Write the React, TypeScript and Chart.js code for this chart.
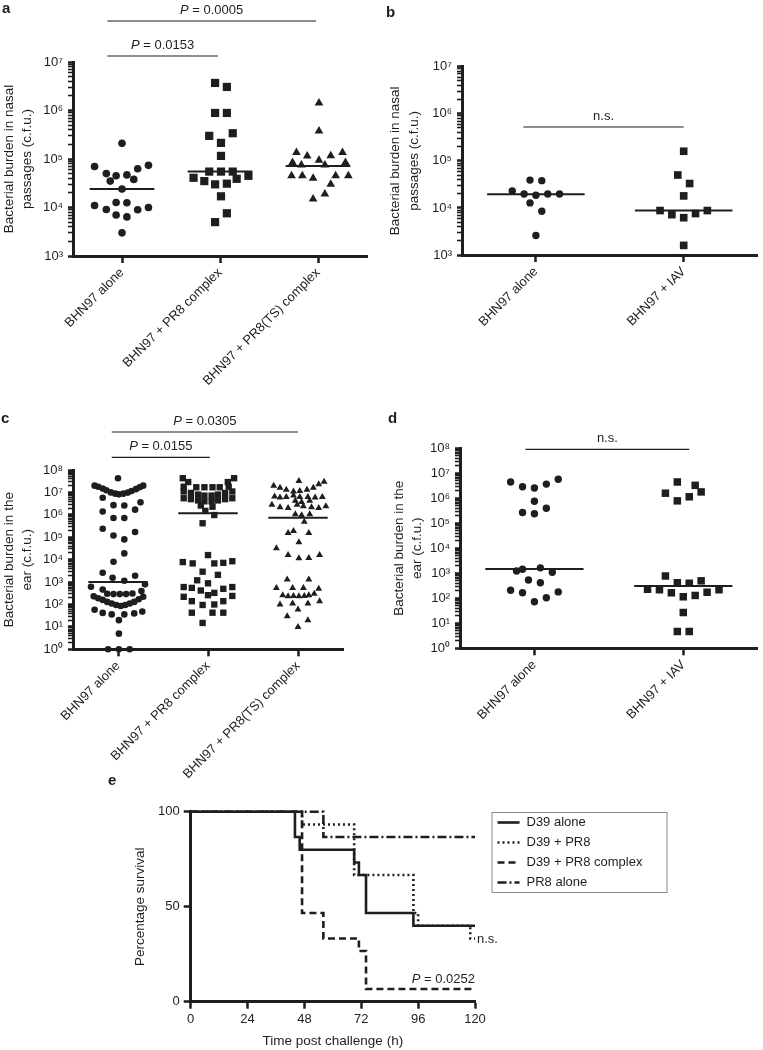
import React, { useEffect, useRef } from 'react';
import { Chart, registerables } from 'chart.js';

Chart.register(...registerables);

const FONT = "'Liberation Sans', Arial, Helvetica, sans-serif";
const INK = '#1e1e1e';

type Pt = [number, number]; // [horizontal jitter (category units), value]

// ---------------- panel a ----------------
const aCategories = ['BHN97 alone', 'BHN97 + PR8 complex', 'BHN97 + PR8(TS) complex'];
const aAlone: Pt[] = [
  [0, 2.1e5], [-0.28, 7.0e4], [0.27, 7.4e4], [0.16, 6.3e4], [-0.16, 5.0e4], [0.05, 4.7e4],
  [-0.06, 4.5e4], [0.12, 3.8e4], [-0.12, 3.5e4], [0, 2.4e4], [-0.06, 1.27e4], [0.05, 1.25e4],
  [-0.28, 1.1e4], [0.27, 1.0e4], [-0.16, 9.1e3], [0.16, 9.0e3], [-0.06, 7.0e3], [0.05, 6.4e3], [0, 3.0e3],
];
const aPR8: Pt[] = [
  [-0.05, 3.7e6], [0.07, 3.06e6], [-0.05, 8.9e5], [0.07, 8.9e5], [-0.11, 3.0e5], [0.13, 3.4e5],
  [0.01, 2.15e5], [0.01, 1.16e5], [-0.11, 5.5e4], [0.01, 5.5e4], [0.13, 5.5e4], [-0.27, 4.1e4],
  [0.29, 4.5e4], [-0.16, 3.5e4], [0.17, 3.9e4], [-0.05, 3.0e4], [0.07, 3.1e4], [0.01, 1.7e4],
  [0.07, 7.6e3], [-0.05, 5.0e3],
];
const aPR8TS: Pt[] = [
  [0.01, 1.43e6], [0.01, 3.8e5], [-0.22, 1.36e5], [0.25, 1.36e5], [-0.11, 1.15e5], [0.13, 1.17e5],
  [0.01, 9.4e4], [-0.26, 8.5e4], [0.28, 8.5e4], [-0.17, 7.5e4], [0.07, 7.5e4], [-0.27, 4.5e4],
  [-0.16, 4.5e4], [-0.05, 4.0e4], [0.18, 4.5e4], [0.31, 4.5e4], [0.13, 3.0e4], [0.07, 1.9e4],
  [-0.05, 1.5e4],
];
const aMedians = [2.4e4, 5.5e4, 7.2e4];
const aPValues = ['P = 0.0005', 'P = 0.0153'];

// ---------------- panel b ----------------
const bCategories = ['BHN97 alone', 'BHN97 + IAV'];
const bAlone: Pt[] = [
  [-0.16, 2.3e4], [-0.04, 3.9e4], [0.04, 3.8e4], [-0.08, 1.98e4], [0, 1.86e4], [0.08, 1.98e4],
  [0.16, 1.98e4], [-0.04, 1.28e4], [0.04, 8.5e3], [0, 2.6e3],
];
const bIAV: Pt[] = [
  [0, 1.6e5], [-0.04, 5.0e4], [0.04, 3.3e4], [0, 1.8e4], [-0.16, 8.8e3], [0.16, 8.8e3],
  [-0.08, 7.2e3], [0.08, 7.6e3], [0, 6.2e3], [0, 1.6e3],
];
const bMedians = [1.95e4, 8.8e3];
const bLabel = 'n.s.';

// ---------------- panel c ----------------
const cCategories = ['BHN97 alone', 'BHN97 + PR8 complex', 'BHN97 + PR8(TS) complex'];
const cAlone: Pt[] = [
  [0, 4.3e7],
  [-0.26, 2.0e7], [-0.22, 1.8e7], [-0.17, 1.5e7], [-0.13, 1.25e7], [-0.08, 1.0e7], [-0.03, 8.8e6],
  [0.01, 8.2e6], [0.06, 8.8e6], [0.11, 9.8e6], [0.15, 1.15e7], [0.2, 1.4e7], [0.24, 1.7e7], [0.28, 2.0e7],
  [-0.17, 5.8e6], [0.25, 3.6e6], [-0.05, 2.7e6], [0.07, 2.6e6], [0.19, 1.7e6], [-0.17, 1.4e6],
  [-0.05, 7.2e5], [0.07, 7.2e5], [-0.17, 2.4e5], [0.19, 1.7e5], [-0.05, 1.2e5], [0.07, 8.0e4],
  [0.07, 1.9e4], [-0.05, 8.0e3],
  [-0.17, 2.6e3], [-0.06, 1.56e3], [0.07, 1.15e3], [0.19, 1.9e3], [-0.3, 6.2e2], [0.3, 7.9e2],
  [-0.17, 4.6e2], [-0.12, 3.0e2], [-0.05, 2.9e2], [0.02, 2.9e2], [0.09, 2.9e2], [0.16, 3.1e2], [0.26, 4.0e2],
  [-0.27, 2.3e2], [-0.22, 1.9e2], [-0.17, 1.6e2], [-0.12, 1.3e2], [-0.07, 1.1e2], [-0.02, 95],
  [0.03, 85], [0.08, 95], [0.13, 1.1e2], [0.18, 1.3e2], [0.23, 1.7e2], [0.28, 2.2e2],
  [-0.26, 58], [-0.17, 42], [-0.07, 36], [0.07, 36], [0.18, 40], [0.27, 48],
  [0.01, 20], [0.01, 5], [-0.11, 1], [0.01, 1], [0.13, 1],
];
const cPR8: Pt[] = [
  [-0.28, 4.3e7], [0.29, 4.3e7], [-0.22, 2.9e7], [0.22, 2.9e7],
  [-0.27, 1.8e7], [-0.13, 1.7e7], [-0.04, 1.7e7], [0.05, 1.7e7], [0.13, 1.7e7], [0.23, 1.8e7],
  [-0.27, 1.1e7], [-0.19, 9.5e6], [-0.11, 8.0e6], [-0.04, 7.2e6], [0.04, 7.2e6], [0.11, 8.0e6],
  [0.19, 9.5e6], [0.27, 1.1e7],
  [-0.27, 5.5e6], [-0.19, 5.0e6], [-0.11, 4.4e6], [-0.04, 4.0e6], [0.04, 4.0e6], [0.11, 4.4e6],
  [0.19, 5.0e6], [0.27, 5.5e6],
  [-0.08, 2.6e6], [0.05, 2.3e6], [-0.03, 1.5e6], [0.07, 9.8e5], [-0.06, 4.2e5],
  [0, 1.6e4], [-0.28, 7.8e3], [-0.17, 6.8e3], [0.07, 6.8e3], [0.17, 7.2e3], [0.27, 8.5e3],
  [-0.06, 2.9e3], [0.11, 2.1e3], [-0.12, 1.2e3], [0, 8.8e2],
  [-0.27, 6.0e2], [-0.18, 5.5e2], [-0.08, 4.2e2], [0.17, 5.0e2], [0.27, 6.0e2],
  [0.07, 3.3e2], [0, 2.6e2], [-0.27, 2.2e2], [0.27, 2.4e2], [-0.18, 1.4e2], [0.17, 1.4e2],
  [-0.06, 95], [0.07, 1.0e2], [-0.18, 43], [0.05, 43], [0.17, 43], [-0.06, 15],
];
const cPR8TS: Pt[] = [
  [0.01, 3.2e7], [0.23, 2.3e7], [0.29, 3.0e7],
  [-0.27, 2.0e7], [-0.2, 1.6e7], [-0.13, 1.3e7], [-0.05, 1.1e7], [0.02, 1.15e7], [0.1, 1.3e7], [0.17, 1.6e7],
  [-0.26, 6.5e6], [-0.2, 6.0e6], [-0.13, 6.3e6], [-0.05, 7.2e6], [0.02, 6.3e6], [0.11, 6.3e6],
  [0.19, 6.0e6], [0.27, 6.3e6],
  [-0.03, 4.2e6], [0.04, 3.7e6], [0.13, 4.2e6],
  [-0.29, 2.8e6], [-0.2, 2.2e6], [-0.11, 2.0e6], [-0.01, 2.8e6], [0.06, 2.4e6], [0.15, 2.2e6],
  [0.23, 2.0e6], [0.31, 2.4e6],
  [-0.03, 1.05e6], [0.04, 9.5e5], [0.13, 1.05e6], [0.07, 4.9e5],
  [-0.11, 1.55e5], [-0.05, 1.9e5], [0.12, 1.55e5], [0.01, 5.9e4], [-0.24, 3.2e4],
  [-0.11, 1.6e4], [0.01, 1.15e4], [0.12, 1.2e4], [0.24, 1.6e4],
  [-0.12, 1.3e3], [0.12, 1.3e3], [-0.24, 5.4e2], [-0.06, 5.4e2], [0.06, 5.4e2], [0.23, 5.0e2],
  [-0.17, 2.6e2], [-0.11, 2.3e2], [-0.05, 2.4e2], [0.01, 2.3e2], [0.07, 2.4e2], [0.12, 2.6e2], [0.18, 3.0e2],
  [-0.2, 1.0e2], [-0.06, 1.1e2], [0.11, 1.1e2], [0.24, 1.4e2],
  [0, 60], [-0.12, 30], [0.11, 20], [0, 10],
];
const cMedians = [1.0e3, 1.17e6, 7.4e5];
const cPValues = ['P = 0.0305', 'P = 0.0155'];

// ---------------- panel d ----------------
const dCategories = ['BHN97 alone', 'BHN97 + IAV'];
const dAlone: Pt[] = [
  [-0.16, 4.5e6], [-0.08, 2.9e6], [0, 2.6e6], [0.08, 3.7e6], [0.16, 5.8e6], [0, 7.6e5],
  [-0.08, 2.7e5], [0, 2.4e5], [0.08, 4.0e5],
  [-0.12, 1.23e3], [-0.08, 1.45e3], [0.04, 1.65e3], [0.12, 1.1e3], [-0.04, 5.4e2], [0.04, 4.2e2],
  [-0.16, 2.1e2], [-0.08, 1.66e2], [0.16, 1.8e2], [0.08, 1.05e2], [0, 73],
];
const dIAV: Pt[] = [
  [-0.04, 4.5e6], [0.08, 3.3e6], [0.12, 1.8e6], [-0.12, 1.6e6], [0.04, 1.15e6], [-0.04, 7.9e5],
  [-0.12, 7.8e2], [-0.04, 4.2e2], [0.04, 4.0e2], [0.12, 5.0e2], [-0.24, 2.3e2], [-0.16, 2.2e2],
  [-0.08, 1.66e2], [0, 1.15e2], [0.08, 1.3e2], [0.16, 1.75e2], [0.24, 2.2e2], [0, 27],
  [-0.04, 4.7], [0.04, 4.7],
];
const dMedians = [1.5e3, 3.1e2];
const dLabel = 'n.s.';

// ---------------- panel e (Kaplan–Meier) ----------------
const eD39Alone: Pt[] = [[0, 100], [44, 86.7], [46, 80], [69, 73.3], [71, 66.7], [74, 46.7], [94, 40], [120, 40]];
const eD39PR8: Pt[] = [[0, 100], [47, 93.3], [69, 66.7], [94, 46.7], [96, 40], [118, 33.3], [120, 33.3]];
const eD39PR8Complex: Pt[] = [[0, 100], [47, 46.7], [56, 33.3], [71, 26.7], [74, 6.7], [120, 6.7]];
const ePR8Alone: Pt[] = [[0, 100], [56, 86.7], [120, 86.7]];
const eLabels = ['D39 alone', 'D39 + PR8', 'D39 + PR8 complex', 'PR8 alone'];
const eXTicks = [0, 24, 48, 72, 96, 120];
const eYTicks = [0, 50, 100];
const eNs = 'n.s.';
const eP = 'P = 0.0252';

// ---------------- helpers ----------------
const SUP = '⁰¹²³⁴⁵⁶⁷⁸⁹';
const isPow10 = (v: number) => Math.abs(Math.log10(v) - Math.round(Math.log10(v))) < 1e-9;
const pow10Label = (v: number) =>
  isPow10(v) ? '10' + String(Math.round(Math.log10(v))).split('').map((d) => SUP[+d]).join('') : '';
function logTicks(min: number, max: number) {
  const out: number[] = [];
  for (let e = Math.round(Math.log10(min)); e < Math.round(Math.log10(max)); e++) {
    for (let s = 1; s < 10; s++) out.push(s * Math.pow(10, e));
  }
  out.push(max);
  return out;
}

function drawRich(ctx: CanvasRenderingContext2D, label: string, x: number, y: number, align: string) {
  const size = 13;
  const parts: [string, string][] = label.startsWith('P = ')
    ? [['P', 'italic'], [label.slice(1), 'normal']]
    : [[label, 'normal']];
  const widths = parts.map(([t, s]) => {
    ctx.font = `${s} ${size}px ${FONT}`;
    return ctx.measureText(t).width;
  });
  const total = widths.reduce((a, b) => a + b, 0);
  let cx = align === 'center' ? x - total / 2 : align === 'right' ? x - total : x;
  ctx.textAlign = 'left';
  ctx.textBaseline = 'middle';
  ctx.fillStyle = INK;
  parts.forEach(([t, s], i) => {
    ctx.font = `${s} ${size}px ${FONT}`;
    ctx.fillText(t, cx, y);
    cx += widths[i];
  });
}

const annotPlugin = {
  id: 'annot',
  afterDraw(chart: any, _args: any, opts: any) {
    const { ctx } = chart;
    const xs = chart.scales.x;
    const ys = chart.scales.y;
    ctx.save();
    (opts.brackets || []).forEach((b: any) => {
      const x1 = xs.getPixelForValue(b.from);
      const x2 = xs.getPixelForValue(b.to);
      ctx.strokeStyle = INK;
      ctx.lineWidth = 1.2;
      ctx.beginPath();
      ctx.moveTo(x1, b.y);
      ctx.lineTo(x2, b.y);
      ctx.stroke();
      drawRich(ctx, b.label, (x1 + x2) / 2, b.y - 11, 'center');
    });
    (opts.notes || []).forEach((n: any) => {
      drawRich(ctx, n.label, xs.getPixelForValue(n.x) + (n.dx || 0), ys.getPixelForValue(n.y) + (n.dy || 0), n.align);
    });
    ctx.restore();
  },
};

const kmLegendPlugin = {
  id: 'kmLegend',
  afterDraw(chart: any, _args: any, opts: any) {
    const { ctx } = chart;
    const box = opts.box;
    if (!box) return;
    ctx.save();
    ctx.strokeStyle = '#8a8a8a';
    ctx.lineWidth = 1;
    ctx.strokeRect(box.x + 0.5, box.y + 0.5, box.w, box.h);
    chart.data.datasets.forEach((ds: any, i: number) => {
      const y = box.y + 10.5 + i * box.gap;
      ctx.setLineDash(ds.borderDash || []);
      ctx.lineWidth = ds.borderWidth;
      ctx.strokeStyle = INK;
      ctx.beginPath();
      ctx.moveTo(box.x + 6, y);
      ctx.lineTo(box.x + 28, y);
      ctx.stroke();
      ctx.setLineDash([]);
      ctx.fillStyle = INK;
      ctx.font = `13px ${FONT}`;
      ctx.textAlign = 'left';
      ctx.textBaseline = 'middle';
      ctx.fillText(ds.label, box.x + 35, y);
    });
    ctx.restore();
  },
};

interface Group { points: Pt[]; style: string; radius: number }

function dotConfig(p: any) {
  const datasets: any[] = [];
  p.groups.forEach((g: Group, i: number) => {
    datasets.push({
      type: 'scatter',
      data: g.points.map(([o, v]) => ({ x: i + 1 + o, y: v })),
      pointStyle: g.style,
      pointRadius: g.radius,
      backgroundColor: INK,
      borderColor: INK,
      borderWidth: 0,
      clip: false,
    });
  });
  p.medians.forEach((m: number, i: number) => {
    datasets.push({
      type: 'line',
      data: [{ x: i + 1 - 0.33, y: m }, { x: i + 1 + 0.33, y: m }],
      borderColor: INK,
      borderWidth: 2,
      pointRadius: 0,
      fill: false,
      clip: false,
    });
  });
  const tickFont = { family: FONT, size: 13 };
  return {
    type: 'scatter',
    data: { datasets },
    options: {
      responsive: false,
      animation: false,
      devicePixelRatio: 1,
      layout: { padding: { left: 0, top: p.area.top, right: p.w - p.area.right, bottom: 0 } },
      plugins: {
        legend: { display: false },
        tooltip: { enabled: false },
        annot: { brackets: p.brackets },
      },
      scales: {
        x: {
          type: 'linear',
          min: 0.5,
          max: p.categories.length + 0.5,
          afterBuildTicks: (s: any) => {
            s.ticks = p.categories.map((_: string, i: number) => ({ value: i + 1 }));
          },
          afterFit: (s: any) => {
            s.height = p.h - p.area.bottom;
          },
          ticks: {
            callback: (v: any) => p.categories[Math.round(Number(v)) - 1] ?? '',
            minRotation: 45,
            maxRotation: 45,
            autoSkip: false,
            font: tickFont,
            color: INK,
            padding: 2,
          },
          grid: { drawOnChartArea: false, drawTicks: true, tickLength: 7, tickWidth: 2.5, tickColor: INK },
          border: { display: true, color: INK, width: 3 },
        },
        y: {
          type: 'logarithmic',
          min: p.yMin,
          max: p.yMax,
          afterBuildTicks: (s: any) => {
            s.ticks = logTicks(p.yMin, p.yMax).map((v) => ({ value: v, major: isPow10(v) }));
          },
          afterFit: (s: any) => {
            s.width = p.area.left;
          },
          ticks: {
            callback: (v: any) => pow10Label(Number(v)),
            autoSkip: false,
            font: tickFont,
            color: INK,
            padding: 5,
          },
          grid: {
            drawOnChartArea: false,
            drawTicks: true,
            tickLength: 5,
            tickWidth: (c: any) => (c.tick && isPow10(c.tick.value) ? 2.5 : 1.6),
            tickColor: INK,
          },
          border: { display: true, color: INK, width: 3 },
          title: {
            display: true,
            text: p.yTitle,
            color: INK,
            font: { family: FONT, size: 13.5, lineHeight: 1.35 },
            padding: { top: p.titlePad, bottom: 0 },
          },
        },
      },
    },
    plugins: [annotPlugin],
  };
}

function kmConfig() {
  const series = [
    { label: eLabels[0], data: eD39Alone, dash: [] },
    { label: eLabels[1], data: eD39PR8, dash: [2, 3] },
    { label: eLabels[2], data: eD39PR8Complex, dash: [7, 4] },
    { label: eLabels[3], data: ePR8Alone, dash: [9, 3, 2, 3] },
  ];
  const W = 763;
  const H = 280;
  const area = { left: 190.7, top: 41.7, right: 475, bottom: 231.7 };
  const tickFont = { family: FONT, size: 13 };
  return {
    type: 'line',
    data: {
      datasets: series.map((s) => ({
        label: s.label,
        data: s.data.map(([x, y]) => ({ x, y })),
        stepped: 'before',
        borderColor: INK,
        borderWidth: 2.6,
        borderDash: s.dash,
        pointRadius: 0,
        fill: false,
        clip: false,
      })),
    },
    options: {
      responsive: false,
      animation: false,
      devicePixelRatio: 1,
      layout: { padding: { left: 125, top: area.top, right: W - area.right, bottom: 0 } },
      plugins: {
        legend: { display: false },
        tooltip: { enabled: false },
        kmLegend: { box: { x: 491.5, y: 812 - 770, w: 175, h: 80, gap: 20 } },
        annot: {
          notes: [
            { label: eNs, x: 120, y: 33.3, dx: 2, dy: 1, align: 'left' },
            { label: eP, x: 120, y: 33.3, dx: 0, dy: 41, align: 'right' },
          ],
        },
      },
      scales: {
        x: {
          type: 'linear',
          min: 0,
          max: 120,
          afterBuildTicks: (s: any) => {
            s.ticks = eXTicks.map((v) => ({ value: v }));
          },
          afterFit: (s: any) => {
            s.height = H - area.bottom;
          },
          ticks: { font: tickFont, color: INK, padding: 3, maxRotation: 0, autoSkip: false },
          grid: { drawOnChartArea: false, drawTicks: true, tickLength: 7, tickWidth: 2.5, tickColor: INK },
          border: { display: true, color: INK, width: 3 },
          title: {
            display: true,
            text: 'Time post challenge (h)',
            color: INK,
            font: { family: FONT, size: 13.5, lineHeight: 1.3 },
            padding: { top: 0, bottom: 0 },
          },
        },
        y: {
          type: 'linear',
          min: 0,
          max: 100,
          afterBuildTicks: (s: any) => {
            s.ticks = eYTicks.map((v) => ({ value: v }));
          },
          afterFit: (s: any) => {
            s.width = area.left - 125;
          },
          ticks: { font: tickFont, color: INK, padding: 4, autoSkip: false },
          grid: { drawOnChartArea: false, drawTicks: true, tickLength: 7, tickWidth: 2.5, tickColor: INK },
          border: { display: true, color: INK, width: 3 },
          title: {
            display: true,
            text: 'Percentage survival',
            color: INK,
            font: { family: FONT, size: 13.5, lineHeight: 1.3 },
            padding: { top: 7, bottom: 0 },
          },
        },
      },
    },
    plugins: [annotPlugin, kmLegendPlugin],
  };
}

function ChartCanvas({ make, left, top, width, height }: any) {
  const ref = useRef<HTMLCanvasElement>(null);
  useEffect(() => {
    const chart = new Chart(ref.current as HTMLCanvasElement, make());
    return () => chart.destroy();
  }, []);
  return (
    <canvas
      ref={ref}
      width={width}
      height={height}
      style={{ position: 'absolute', left, top, width, height, display: 'block' }}
    />
  );
}

const letterStyle = (left: number, top: number): React.CSSProperties => ({
  position: 'absolute',
  left,
  top,
  fontFamily: FONT,
  fontWeight: 'bold',
  fontSize: 15,
  lineHeight: '15px',
  color: INK,
});

export default function App() {
  const makeA = () =>
    dotConfig({
      categories: aCategories,
      groups: [
        { points: aAlone, style: 'circle', radius: 3.8 },
        { points: aPR8, style: 'rect', radius: 5.8 },
        { points: aPR8TS, style: 'triangle', radius: 5 },
      ],
      medians: aMedians,
      yMin: 1e3,
      yMax: 1e7,
      yTitle: ['Bacterial burden in nasal', 'passages (c.f.u.)'],
      titlePad: 0,
      w: 380,
      h: 400,
      area: { left: 73, top: 62, right: 367, bottom: 256 },
      brackets: [
        { from: 0.85, to: 2.98, y: 21, label: aPValues[0] },
        { from: 0.85, to: 1.98, y: 56, label: aPValues[1] },
      ],
    });
  const makeB = () =>
    dotConfig({
      categories: bCategories,
      groups: [
        { points: bAlone, style: 'circle', radius: 3.7 },
        { points: bIAV, style: 'rect', radius: 5.4 },
      ],
      medians: bMedians,
      yMin: 1e3,
      yMax: 1e7,
      yTitle: ['Bacterial burden in nasal', 'passages (c.f.u.)'],
      titlePad: 6.5,
      w: 383,
      h: 400,
      area: { left: 82, top: 66.7, right: 378, bottom: 255 },
      brackets: [{ from: 0.915, to: 2.0, y: 127, label: bLabel }],
    });
  const makeC = () =>
    dotConfig({
      categories: cCategories,
      groups: [
        { points: cAlone, style: 'circle', radius: 3.3 },
        { points: cPR8, style: 'rect', radius: 4.5 },
        { points: cPR8TS, style: 'triangle', radius: 4 },
      ],
      medians: cMedians,
      yMin: 1,
      yMax: 1e8,
      yTitle: ['Bacterial burden in the', 'ear (c.f.u.)'],
      titlePad: 0,
      w: 380,
      h: 390,
      area: { left: 73, top: 70, right: 343, bottom: 249.3 },
      brackets: [
        { from: 0.93, to: 3.0, y: 32, label: cPValues[0] },
        { from: 0.93, to: 2.02, y: 57.3, label: cPValues[1] },
      ],
    });
  const makeD = () =>
    dotConfig({
      categories: dCategories,
      groups: [
        { points: dAlone, style: 'circle', radius: 3.7 },
        { points: dIAV, style: 'rect', radius: 5.3 },
      ],
      medians: dMedians,
      yMin: 1,
      yMax: 1e8,
      yTitle: ['Bacterial burden in the', 'ear (c.f.u.)'],
      titlePad: 10,
      w: 383,
      h: 390,
      area: { left: 80, top: 48.3, right: 380, bottom: 248.3 },
      brackets: [{ from: 0.94, to: 2.04, y: 49.3, label: dLabel }],
    });

  return (
    <div style={{ position: 'absolute', left: 0, top: 0, width: 763, height: 1050, background: '#fff', overflow: 'hidden' }}>
      <ChartCanvas make={makeA} left={0} top={0} width={380} height={400} />
      <ChartCanvas make={makeB} left={380} top={0} width={383} height={400} />
      <ChartCanvas make={makeC} left={0} top={400} width={380} height={390} />
      <ChartCanvas make={makeD} left={380} top={400} width={383} height={390} />
      <ChartCanvas make={kmConfig} left={0} top={770} width={763} height={280} />
      <div style={letterStyle(2, 0)}>a</div>
      <div style={letterStyle(386, 4)}>b</div>
      <div style={letterStyle(1, 410)}>c</div>
      <div style={letterStyle(388, 410)}>d</div>
      <div style={letterStyle(108, 772)}>e</div>
    </div>
  );
}
